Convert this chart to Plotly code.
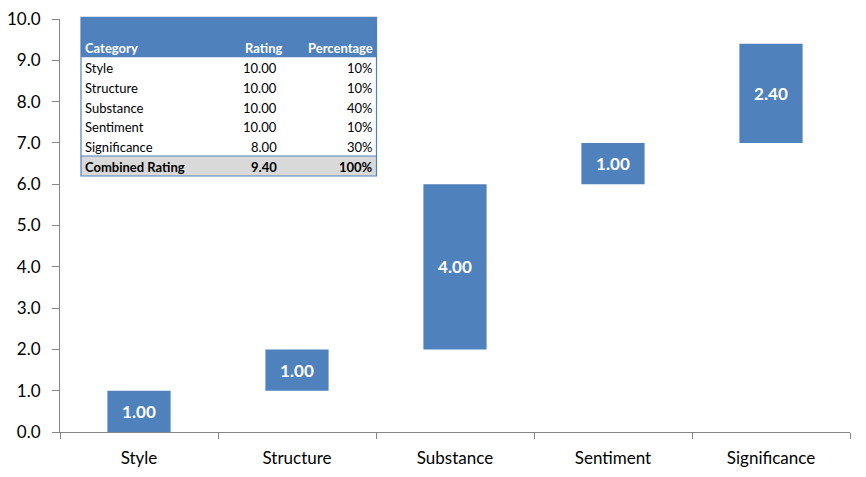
import plotly.graph_objects as go

categories = ["Style", "Structure", "Substance", "Sentiment", "Significance"]
ratings = [10.00, 10.00, 10.00, 10.00, 8.00]
percentages = [0.10, 0.10, 0.40, 0.10, 0.30]
y_ticks = [0, 1, 2, 3, 4, 5, 6, 7, 8, 9, 10]

contrib = [r * p for r, p in zip(ratings, percentages)]
bases = []
acc = 0.0
for c in contrib:
    bases.append(acc)
    acc += c
combined = acc

BLUE = "#4F81BD"
FONT = "Lato"

fig = go.Figure()
fig.add_trace(go.Bar(
    x=categories, y=contrib, base=bases,
    marker=dict(color=BLUE, line=dict(width=0)),
    width=0.4,
    text=[f"{c:.2f}" for c in contrib],
    textposition="inside", insidetextanchor="middle",
    textfont=dict(color="white", size=17, family=FONT, weight="bold"),
    hoverinfo="skip",
))

# page body has an 8px default margin; work in screen pixels and offset
OFF = 8
SW, SH = 866, 477
PL, PR, PT, PB = 60, 850, 19, 432  # plot area in screen pixels
W, H = SW - OFF, SH - OFF
L, T = PL - OFF, PT - OFF
R = W - (PR - OFF)
B = H - (PB - OFF)
pw, ph = PR - PL, PB - PT


def px(x):
    return (x - PL) / pw


def py(y):
    return (PB - y) / ph


shapes = []
ann = []
# header
shapes.append(dict(type="rect", xref="paper", yref="paper", x0=px(81), x1=px(376.5),
                   y0=py(57.5), y1=py(17.3), fillcolor=BLUE, line=dict(width=0), layer="above"))
# body
shapes.append(dict(type="rect", xref="paper", yref="paper", x0=px(81), x1=px(376.5),
                   y0=py(156), y1=py(57.5), fillcolor="white", line=dict(width=0), layer="above"))
# combined row
shapes.append(dict(type="rect", xref="paper", yref="paper", x0=px(81), x1=px(376.5),
                   y0=py(176), y1=py(156), fillcolor="#D9D9D9", line=dict(width=0), layer="above"))
# outer border and separator
shapes.append(dict(type="rect", xref="paper", yref="paper", x0=px(81), x1=px(376.5),
                   y0=py(176), y1=py(17.3), fillcolor="rgba(0,0,0,0)",
                   line=dict(color=BLUE, width=1.2), layer="above"))
shapes.append(dict(type="line", xref="paper", yref="paper", x0=px(81), x1=px(376.5),
                   y0=py(156), y1=py(156), line=dict(color=BLUE, width=1.2), layer="above"))


def cell(text, x, y, anchor, color="black", bold=False):
    ann.append(dict(text=text, xref="paper", yref="paper", x=px(x), y=py(y),
                    xanchor=anchor, yanchor="middle", showarrow=False,
                    font=dict(family=FONT, size=13, color=color,
                              weight="bold" if bold else "normal")))


cell("Category", 83, 48, "left", "white", True)
cell("Rating", 284, 48, "right", "white", True)
cell("Percentage", 374.5, 48, "right", "white", True)
row_y = [68, 88, 108, 127.5, 147]
for cat, r, p, yy in zip(categories, ratings, percentages, row_y):
    cell(cat, 83, yy, "left")
    cell(f"{r:.2f}", 279, yy, "right")
    cell(f"{p*100:.0f}%", 374.5, yy, "right")
cell("Combined Rating", 83, 167, "left", bold=True)
cell(f"{combined:.2f}", 279, 167, "right", bold=True)
cell(f"{sum(percentages)*100:.0f}%", 374.5, 167, "right", bold=True)

fig.update_layout(
    width=W, height=H,
    margin=dict(l=L, r=R, t=T, b=B, pad=0),
    plot_bgcolor="white", paper_bgcolor="white",
    showlegend=False,
    shapes=shapes, annotations=ann,
    font=dict(family=FONT, size=17, color="black"),
    xaxis=dict(showline=True, linecolor="#868686", linewidth=1,
               ticks="outside", ticklen=6, tickcolor="#868686", tickson="boundaries",
               showgrid=False, range=[-0.5, 4.5], fixedrange=True, automargin=False,
               ticklabelstandoff=11, ticklabeloverflow="allow",
               tickfont=dict(family=FONT, size=17, color="black")),
    yaxis=dict(range=[0, 10], tickvals=y_ticks, tickformat=".1f",
               showline=True, linecolor="#868686", linewidth=1,
               ticks="outside", ticklen=7, tickcolor="#868686",
               showgrid=False, zeroline=False, fixedrange=True, automargin=False,
               ticklabelstandoff=8, ticklabeloverflow="allow",
               tickfont=dict(family=FONT, size=17, color="black")),
)

fig.write_html("out.html")
